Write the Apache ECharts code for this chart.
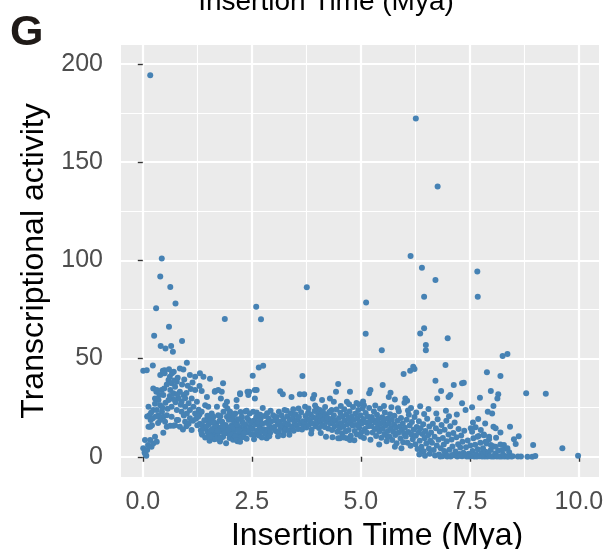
<!DOCTYPE html>
<html>
<head>
<meta charset="utf-8">
<script src="https://cdn.jsdelivr.net/npm/echarts@6/dist/echarts.min.js"></script>
<style>
html,body{margin:0;padding:0;background:#fff;}
#chart{width:605px;height:549px;}
</style>
</head>
<body>
<div id="chart"></div>
<script>
// ---------- data (Insertion Time (Mya), Transcriptional activity) ----------
const xTicks = [0, 2.5, 5, 7.5, 10];
const yTicks = [0, 50, 100, 150, 200];
const xMinor = [1.25, 3.75, 6.25, 8.75];
const yMinor = [25, 75, 125, 175];

const highOutliers = [[0.17,194.3],[6.26,172.3],[6.76,137.7],[0.435,101],[0.40,91.8],[0.63,86.4],[3.76,86.3],[6.14,102.2],[6.40,96.2],[6.71,90],[7.67,94.4],[7.68,81.5],[6.45,81.5],[5.12,78.6],[0.305,75.6],[0.75,78.1],[2.60,76.4],[1.88,70.1],[2.71,70],[0.60,66.2],[0.26,61.6],[0.90,58.9],[0.41,56.4],[0.52,55.2],[0.65,56.4],[0.69,53.5],[5.11,62.6],[5.48,54.3],[6.36,62.8],[6.45,65.4],[6.49,56.9],[6.49,54.3],[6.99,60.3],[6.94,46.7],[8.25,51.3],[8.36,52.4],[7.89,43.1],[8.2,41.1],[8.79,32.4],[9.24,32.1],[9.62,4.3],[9.98,0.5],[8.95,6]];

const earlyBurst = [[0.01,4.3],[0.04,2.2],[0.08,0.5],[0.05,8.5],[0.12,6],[0.17,8.5],[0.2,5.1],[0.24,6.8],[0.28,10.2],[0.32,7.6],[0.47,12.2],[0.06,1.2],[0.1,3.4],
[0.13,25.5],[0.15,21.2],[0.18,18.7],[0.23,19.6],[0.13,15.3],[0.21,16.1],[0.24,23.8],[0.17,15.3],[0.1,20.5],[0.19,22.4],
[0.01,43.8],[0.09,44.1],[0.23,46.5],
[0.24,34.8],[0.32,34],[0.28,29.7],[0.36,28.9],[0.40,26.3],[0.32,23.8],[0.44,22.9],[0.47,20.4],[0.40,18.7],[0.51,17.8],[0.55,15.3],[0.36,21.2],[0.47,31.4],[0.46,42.5],[0.5,44.1],[0.4,41.6],[0.43,34],[0.49,34.8],[0.31,33.1],[0.28,27],[0.38,31.5],[0.52,27.5],[0.45,25],
[0.59,39.1],[0.66,37.4],[0.74,35.6],[0.63,34],[0.70,32.3],[0.78,38.2],[0.85,33.1],[0.93,31.4],[0.82,29.7],[0.89,28],[0.97,25.5],[1.05,27.2],[1.08,23.8],[1.01,22.1],[0.89,22.9],[0.78,23.8],[0.66,25.5],[0.59,28.9],[0.55,21.2],[0.66,20.4],[0.78,18.7],[0.74,16.1],[0.85,15.3],[0.97,17.8],[1.08,19.6],[1.2,22.1],[1.16,25.5],[1.12,29.7],[1.24,28],[1.2,34],[1.08,41.6],[1.2,40.7],[1.31,42.5],[1.39,40.7],[1.54,39.7],[0.85,45],[0.93,44.5],[1.01,47.9],[0.63,15.8],[1.12,13.6],[0.7,15.8],[0.81,18.7],
[0.46,43.8],[0.5,42.5],[0.62,40.7],[0.67,42.5],[0.71,43.3],[0.6,44.6],[0.72,38.9],[0.8,40.3],[0.95,39.4],[0.9,36.8],[1.03,36.2],[1.14,37.8],[1.0,32.5],[0.87,26.5],[0.75,27.8],[0.7,29.4],[0.94,21],[1.0,15.5],[1.05,16.8],[0.92,13.9],[1.15,18.3],[1.25,16],[1.22,19.4],[1.28,24],[1.3,21.5],[0.57,24.5],[0.62,31],[0.79,31.8],[0.97,29.8],[1.1,34.5],[1.3,36],[1.35,33.5],[0.3,20.5],[0.35,17.2],[0.55,36.8]];

const midBand = [[1.66,33.5],[1.81,33.1],[1.79,29.7],[1.93,28],[1.94,24.6],[1.7,25.5],[2.15,28.9],[2.23,31.9],[2.15,25.5],[2.27,20.4],[2.12,22.1],[2.42,31.4],[2.44,33.1],[2.57,29.7],[2.61,34],[1.47,30.5],[1.43,26.3],[1.35,22.9],[1.27,20.4],[1.47,18.7],[1.58,22.1],[1.62,20.4],[1.73,21.2],[1.85,22.9],[1.93,20.4],[2.0,22.9],[2.06,18.7],[1.89,26.3],[1.5,25.5],[1.84,37.4],[1.65,33.1],[1.73,34],[2.66,45.5],[2.76,46.3],[2.52,41.2],[2.4,33.1],[2.57,34],[2.23,32.3],
[1.31,16.8],[1.33,13.5],[1.36,11.2],[1.37,15.9],[1.41,18.6],[1.43,9.8],[1.44,14.1],[1.49,12.3],[1.51,16.4],[1.53,8.2],[1.55,13.1],[1.57,17.6],[1.6,10.9],[1.63,14.7],[1.64,8.9],[1.67,12.6],[1.69,16.9],[1.72,10.7],[1.74,14.8],[1.77,7.8],[1.79,12.9],[1.82,17.8],[1.84,10.2],[1.86,14.3],[1.9,16.2],[1.91,6.9],[1.95,11.8],[1.97,18.9],[1.99,9.6],[2.02,13.7],[2.04,16.1],[2.07,8.7],[2.09,12.2],[2.12,17.3],[2.14,14.1],[2.17,7.9],[2.19,10.8],[2.22,15.2],[2.25,12.6],[2.28,17.9],[2.3,10.1],[2.33,14.4],[2.35,16.3],[2.38,9.2],[2.41,12.4],[2.43,18.6],[2.46,15.3],[2.49,11.4],
[1.39,14.6],[1.46,15.5],[1.52,11.8],[1.58,13.9],[1.66,15.8],[1.71,13.2],[1.76,18.4],[1.8,9.5],[1.88,12.1],[1.92,15.1],[2.01,11.6],[2.06,14.9],[2.11,10.3],[2.16,16.5],[2.2,13.4],[2.26,9.9],[2.31,16.8],[2.36,12.9],[2.44,13.8],[2.48,17.2],[1.62,17.9],[1.7,9.2],[1.83,15.7],[1.96,13.5],[2.03,19.5],[2.18,19.1],[2.32,11.7],[2.39,19.8],[1.48,20.9],[1.56,19.8],[1.78,20.6],[1.98,21.5],[2.09,21.1],[2.24,22.8],[2.35,23.1],[2.45,22],
[1.35,11.9],[1.54,10.2],[1.77,9.4],[2.15,8.5],[2.23,7.6],
[2.38,23.4],[2.53,22.9],[2.75,24.9],[2.84,9.4],[2.52,14.2],[2.54,18.3],[2.56,11.5],[2.58,16.4],[2.6,20.1],[2.62,13.3],[2.64,17.5],[2.66,10.8],[2.68,15.1],[2.7,19.2],[2.72,12.6],[2.74,16.8],[2.77,14],[2.79,20.8],[2.81,11.9],[2.83,17.3],[2.86,13.8],[2.88,19.5],[2.9,15.7],[2.92,12.2],[2.95,18.1],[2.97,14.6],[2.99,21.1],[2.61,22.5],[2.69,21.4],[2.85,22.2],[2.93,23.4],[2.55,8.9],[2.73,9.8],[2.9,10.4],
[3.15,33.4],[3.21,31.9],[3.41,30.5],[3.6,31.9],[3.7,31.9],[3.3,23.4],[3.66,41.1],[3.22,11],
[3.01,15.2],[3.03,18.6],[3.05,13.1],[3.07,20.3],[3.09,16.4],[3.11,12.4],[3.13,17.9],[3.16,14.6],[3.18,21.2],[3.2,15.8],[3.22,19.1],[3.24,12.9],[3.26,17.2],[3.28,14.3],[3.31,20.5],[3.33,16.6],[3.35,13.5],[3.37,18.8],[3.39,22.1],[3.42,15.4],[3.44,19.7],[3.46,13.2],[3.48,17.4],[3.5,21.6],[3.52,15.9],[3.54,18.9],[3.56,14.1],[3.58,20.2],[3.61,16.8],[3.63,22.7],[3.65,13.9],[3.67,18.1],[3.69,15.2],[3.12,22.9],[3.25,23.8],[3.45,24.2],[3.57,24.6],[3.1,10.5],[3.36,11.2]];

const centralBand = [[3.72,25.5],[3.99,24.6],[4.06,23.8],[3.9,29.7],[3.93,31.4],[4.11,28.9],[4.38,28],[4.33,23.8],[4.29,22.9],[4.48,37],[4.43,33.1],[4.2,10.2],[4.35,9.9],[4.48,9.4],[4.29,29.7],
[3.71,17.6],[3.73,20.8],[3.75,14.9],[3.77,19.2],[3.79,22.4],[3.81,16.3],[3.83,18.7],[3.85,21.5],[3.87,13.8],[3.89,17.1],[3.91,20.1],[3.94,23.3],[3.96,15.6],[3.98,19.4],[4.0,17.5],[4.02,21.8],[4.04,14.7],[4.07,18.3],[4.09,20.9],[4.11,16.2],[4.13,23.1],[4.15,18.9],[4.17,15.1],[4.19,21.3],[4.21,17.7],[4.23,19.9],[4.25,14.4],[4.27,22.6],[4.3,16.9],[4.32,19.3],[4.34,13.6],[4.36,17.8],[4.38,21.2],[4.4,15.5],[4.42,18.6],[4.44,24.1],[4.46,12.8],[4.48,16.7],[3.8,24.6],[3.95,26.1],[4.18,25.3],[4.08,12.1],[3.86,11.9],
[4.68,28],[4.75,33.1],[4.68,9.4],[4.95,26.8],[5.07,26.3],[5.22,34],[5.19,32.3],[4.52,9.4],[4.75,8.5],
[4.5,19.8],[4.52,14.6],[4.53,22.4],[4.55,17.1],[4.57,11.8],[4.58,20.6],[4.6,15.3],[4.62,24.2],[4.63,18.4],[4.65,12.9],[4.67,21.7],[4.69,16.5],[4.71,19.5],[4.72,13.6],[4.74,23.1],[4.76,17.8],[4.77,10.7],[4.79,20.4],[4.81,15.9],[4.82,25.3],[4.84,18.7],[4.86,13.1],[4.87,21.9],[4.89,16.2],[4.91,11.4],[4.92,19.6],[4.94,23.8],[4.96,14.8],[4.97,17.9],[4.99,21.2],[5.01,12.5],[5.02,16.9],[5.04,24.6],[5.06,19.3],[5.07,9.6],[5.09,14.1],[5.11,22.3],[5.12,17.4],[5.14,12.2],[5.16,20.5],[5.17,15.6],[5.19,24.9],[5.21,18.1],[5.22,8.7],[4.54,25.9],[4.73,26.7],[4.9,27.4],[5.05,28.2],[4.61,9.8],[4.85,8.4],[5.0,10.3],
[5.68,32.6],[5.64,30.5],[5.78,29.2],[5.5,36.5],[5.6,10.5],[5.93,4.3],[6.02,29.7],[6.06,28.5],[6.0,27.5],
[5.24,15.7],[5.25,20.3],[5.27,12.4],[5.29,18.6],[5.3,23.1],[5.32,14.2],[5.34,17.3],[5.35,10.6],[5.37,21.4],[5.39,15.1],[5.4,19.2],[5.42,12.9],[5.44,24.4],[5.45,16.8],[5.47,9.7],[5.49,20.1],[5.5,14.3],[5.52,18.2],[5.54,11.6],[5.55,22.6],[5.57,15.9],[5.59,7.9],[5.61,19.5],[5.62,13.1],[5.64,17.1],[5.66,10.2],[5.67,21.7],[5.69,14.6],[5.71,18.8],[5.72,8.6],[5.74,12.7],[5.76,16.4],[5.77,20.9],[5.79,11.1],[5.81,14.9],[5.82,6.9],[5.84,18.3],[5.86,12.2],[5.87,23.2],[5.89,15.4],[5.91,9.3],[5.92,19.7],[5.94,13.6],[5.96,16.9],[5.97,7.4],[5.99,11.8],[5.33,26.1],[5.53,25.8],[5.7,25.2],[5.85,24.7],[5.42,6.2],[5.78,5.1]];

const lateDecline = [[6.4,2.5],[5.98,42.1],[6.13,43.8],[6.2,45.8],[6.23,44.7],
[6.01,14.8],[6.03,10.3],[6.05,18.9],[6.07,7.2],[6.09,12.6],[6.1,21.4],[6.12,15.9],[6.14,5.6],[6.16,11.3],[6.17,17.7],[6.19,8.9],[6.21,13.8],[6.23,20.2],[6.25,6.4],[6.26,10.7],[6.28,15.2],[6.3,3.9],[6.32,12.4],[6.33,18.1],[6.35,8.2],[6.37,14.5],[6.39,5.1],[6.41,11.6],[6.43,16.6],[6.44,2.8],[6.46,9.4],[6.48,13.1],[6.5,6.8],[6.52,19.4],[6.54,10.9],[6.56,4.2],[6.57,15.4],[6.59,8.1],[6.08,23.6],[6.27,22.5],[6.45,21.8],[6.15,24.9],[6.36,25.7],[6.55,24.3],[6.58,1.6],[6.47,0.5],[6.34,1.2],
[6.71,38.7],[6.84,33.5],[7.05,31.4],[7.01,30.5],[6.75,29.7],[7.32,27.2],[7.13,36.5],[7.32,37.4],[7.36,37.7],
[6.61,12.3],[6.63,7.1],[6.65,16.8],[6.67,3.4],[6.69,10.2],[6.7,0.6],[6.72,14.5],[6.74,5.8],[6.76,19.1],[6.78,8.7],[6.79,1.1],[6.81,12.9],[6.83,4.3],[6.85,16.2],[6.87,0.3],[6.88,9.6],[6.9,6.2],[6.92,13.7],[6.94,1.8],[6.96,18.3],[6.97,7.9],[6.99,0.4],[7.01,11.4],[7.03,3.6],[7.05,15.6],[7.06,0.2],[7.08,8.8],[7.1,5.2],[7.12,12.1],[7.14,0.8],[7.15,17.4],[7.17,2.7],[7.19,9.9],[7.21,0.1],[7.23,6.4],[7.24,14.2],[7.26,1.4],[7.28,4.7],[7.3,10.8],[7.32,0.3],[7.33,7.6],[7.35,2.1],[7.37,13.3],[7.39,0.6],[7.09,0.9],[6.91,2.9],[7.2,21.5],[6.73,22.1],[6.95,23.4],[7.02,20.6],[6.82,0.2],[7.27,0.5],[6.98,0.1]];

const tailPoints = [[7.52,14.5],[7.63,15],[7.75,13.6],[7.55,12.7],[8.04,15.3],[8.09,14.5],[8.42,15.3],[8.62,10.5],[8.51,8.9],[8.55,6.5],[8.82,0],[8.93,0],[9.0,0.4],[8.04,25.8],[7.55,25.2],[7.4,23.8],[7.91,22.9],[8.01,22.1],[7.98,33.5],[8.15,31.9],[8.13,29.7],[7.73,30],
[7.41,4.8],[7.43,0.2],[7.45,8.3],[7.47,1.6],[7.49,0.1],[7.51,5.7],[7.53,0.4],[7.56,2.9],[7.58,9.4],[7.6,0.2],[7.62,6.1],[7.64,1.3],[7.66,0.1],[7.68,3.8],[7.7,10.6],[7.72,0.3],[7.74,7.2],[7.76,1.9],[7.78,0.1],[7.8,4.4],[7.82,11.3],[7.84,0.2],[7.86,2.6],[7.88,6.8],[7.9,0.1],[7.92,1.4],[7.94,8.9],[7.96,0.3],[7.98,3.5],[8.0,0.1],[8.03,5.4],[8.05,0.2],[8.08,1.7],[8.1,9.7],[8.12,0.1],[8.15,3.1],[8.18,0.2],[8.2,6.3],[8.23,0.1],[8.26,1.2],[8.29,0.1],[8.32,4.1],[8.35,0.2],[8.38,0.1],[8.4,2.3],[8.45,0.1],[8.48,0.3],[7.57,17.5],[7.85,16.9],[8.2,12.4],[7.69,19.2],
[7.67,10.2],[7.82,11],[7.94,10.2],[7.86,7.6],[7.98,6],[8.09,5.1],[8.28,6],[8.36,4.3],[8.24,3.4],[8.6,0.2],[8.67,0.1]];

const allPoints = [].concat(earlyBurst, midBand, centralBand, lateDecline, tailPoints, highOutliers);

// ---------- chart ----------
const FONT = '"Liberation Sans", Arial, Helvetica, sans-serif';
const chart = echarts.init(document.getElementById('chart'), null, {renderer: 'canvas'});

const minorLines = xMinor.map(v => ({xAxis: v})).concat(yMinor.map(v => ({yAxis: v})));

chart.setOption({
  animation: false,
  backgroundColor: '#ffffff',
  grid: {left: 121, right: 6, top: 45, bottom: 72, show: true, backgroundColor: '#EBEBEB', borderWidth: 0,
         containLabel: false, outerBoundsMode: 'none'},
  xAxis: {
    type: 'value', min: -0.5, max: 10.46, offset: 3,
    axisLine: {show: false},
    axisTick: {show: true, length: 5, customValues: xTicks, lineStyle: {color: '#333333', width: 1.4}},
    axisLabel: {customValues: xTicks, formatter: v => v.toFixed(1), color: '#4D4D4D', fontSize: 25, fontFamily: FONT, margin: 10},
    splitLine: {show: true, lineStyle: {color: '#FFFFFF', width: 2.2}},
    name: 'Insertion Time (Mya)', nameLocation: 'middle', nameGap: 32,
    nameTextStyle: {color: '#000000', fontSize: 32, fontFamily: FONT, padding: [0, 0, 0, 34]}
  },
  yAxis: {
    type: 'value', min: -10.3, max: 209.7, offset: 4,
    axisLine: {show: false},
    axisTick: {show: true, length: 5, customValues: yTicks, lineStyle: {color: '#333333', width: 1.4}},
    axisLabel: {customValues: yTicks, color: '#4D4D4D', fontSize: 25, fontFamily: FONT, margin: 14},
    splitLine: {show: true, lineStyle: {color: '#FFFFFF', width: 2.2}},
    name: 'Transcriptional activity', nameLocation: 'middle', nameGap: 63,
    nameTextStyle: {color: '#000000', fontSize: 32, fontFamily: FONT}
  },
  graphic: [
    {type: 'text', left: 10, top: 12, style: {text: 'G', font: 'bold 43px ' + FONT, fill: '#1F1A17'}},
    {type: 'text', x: 326, y: 2, style: {text: 'Insertion Time (Mya)', font: '28px ' + FONT, fill: '#000000', textAlign: 'center', textVerticalAlign: 'middle'}}
  ],
  series: [
    {
      type: 'scatter', data: allPoints, symbol: 'circle', symbolSize: 6,
      itemStyle: {color: '#4682B4', opacity: 1}, z: 3, silent: true,
      markLine: {silent: true, symbol: ['none', 'none'], label: {show: false}, z: 1,
        lineStyle: {color: '#FFFFFF', width: 1.1, type: 'solid'}, emphasis: {disabled: true},
        data: minorLines}
    }
  ]
});
</script>
</body>
</html>
